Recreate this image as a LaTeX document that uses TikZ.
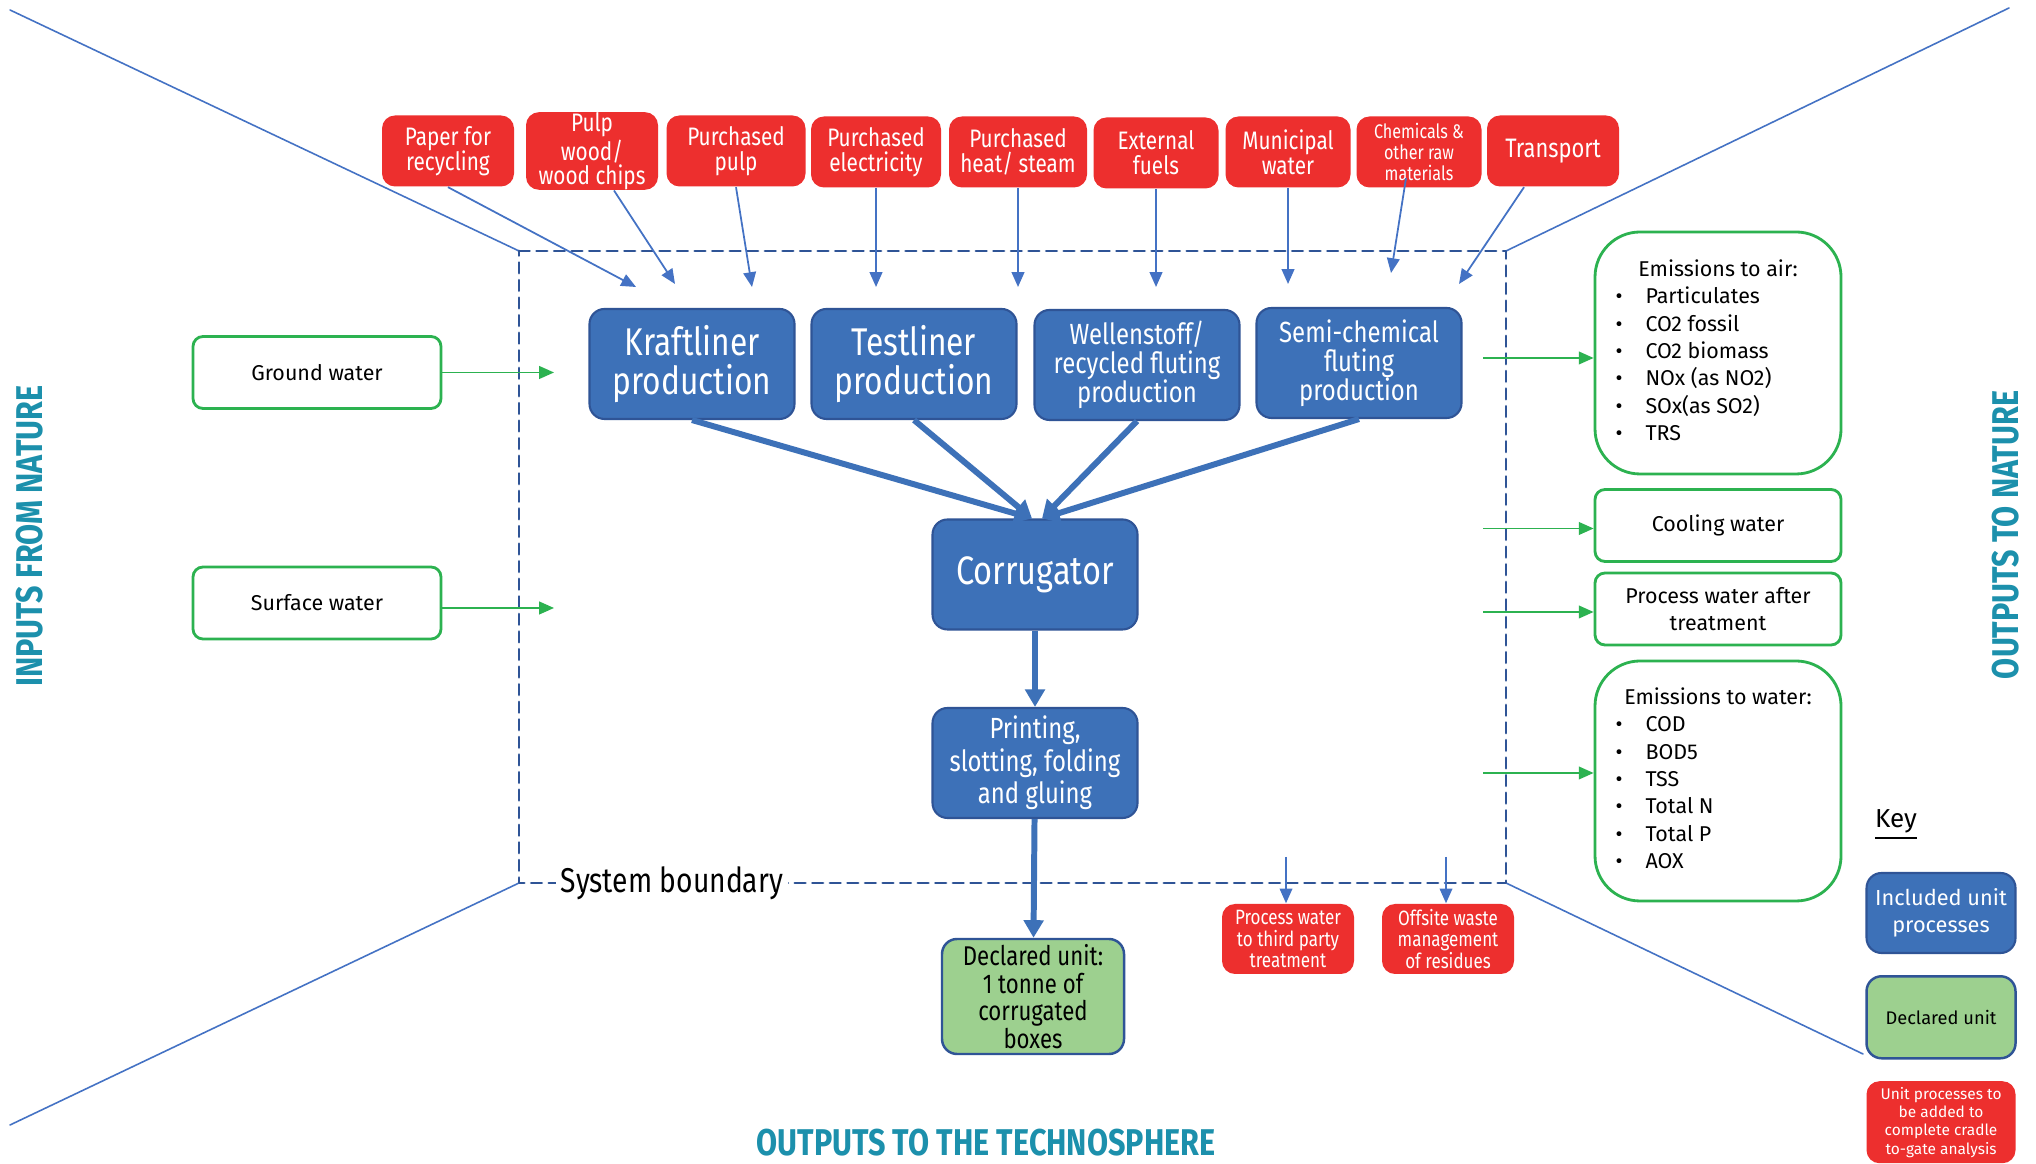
\documentclass[tikz,border=0pt]{standalone}
\usepackage{fontspec}
\setmainfont{Fira Sans}
\newfontfamily\narrowfont[FakeStretch=0.82]{Fira Sans}
\usepackage{tikz}
\usepackage{tkz-euclide}
\usetikzlibrary{calc}
\usetikzlibrary{positioning}
\usetikzlibrary{arrows.meta}

\definecolor{lcared}{RGB}{237,47,46}
\definecolor{lcablue}{RGB}{61,113,184}
\definecolor{lcaedge}{RGB}{47,84,150}
\definecolor{lcagreen}{RGB}{44,178,80}
\definecolor{lcafill}{RGB}{157,208,143}
\definecolor{lcaline}{RGB}{68,114,196}
\definecolor{lcateal}{RGB}{28,144,172}

\newcommand{\fsz}[2]{\fontsize{#1}{#2}\selectfont}

\begin{document}
\begin{tikzpicture}[%
  >={Triangle[length=4.2pt,width=3.6pt]},
  scale=1.0,
  redbox/.style={rectangle, rounded corners=0.13cm, fill=lcared, text=white,
    align=center, minimum height=0.71cm, inner sep=0pt,
    font=\narrowfont\fsz{7.2}{7.2}},
  unitbox/.style={rectangle, rounded corners=0.15cm, fill=lcablue, draw=lcaedge,
    line width=0.6pt, text=white, align=center, minimum width=2.05cm,
    minimum height=1.10cm, inner sep=0pt},
  declbox/.style={rectangle, rounded corners=0.15cm, fill=lcafill, draw=lcaedge,
    line width=0.7pt, align=center, inner sep=0pt},
  naturebox/.style={rectangle, rounded corners=0.1cm, draw=lcagreen,
    line width=0.8pt, minimum width=2.48cm, minimum height=0.72cm,
    inner sep=0pt, font=\fsz{6.1}{7.8}},
  emitbox/.style={naturebox, rounded corners=0.45cm, minimum width=2.46cm},
  inflow/.style={->, draw=lcaline, line width=0.5pt},
  mainflow/.style={-{Triangle[length=5pt,width=5.5pt]}, draw=lcablue, line width=1.7pt},
  greenflow/.style={->, draw=lcagreen, line width=0.5pt},
  heading/.style={text=lcateal, inner sep=0pt, font=\narrowfont\bfseries\fsz{10.6}{12}},
]

  \fill[white] (0,0) rectangle (20.36,11.64);
  \useasboundingbox (0,0) rectangle (20.36,11.64);

  \tkzDefPoint(5.19,9.13){sbA}
  \tkzDefPoint(15.06,9.13){sbB}
  \tkzDefPoint(15.06,2.81){sbC}
  \tkzDefPoint(5.19,2.81){sbD}

  \tkzDefPoint(0.10,11.54){farA}
  \tkzDefPoint(20.09,11.56){farB}
  \tkzDefPoint(18.63,1.10){farC}
  \tkzDefPoint(0.10,0.39){farD}

  \tkzDrawSegments[color=lcaline,line width=0.45pt](farA,sbA farB,sbB farC,sbC farD,sbD)
  \tkzDrawPolygon[color=lcaedge,line width=0.8pt,dash pattern=on 3pt off 2pt](sbA,sbB,sbC,sbD)

  \node[fill=white, inner xsep=1.5pt, inner ysep=1pt, font=\narrowfont\fsz{9.8}{10}]
    (sblabel) at (6.72,2.81) {System boundary};

  \node[redbox, minimum width=1.32cm] (paper) at (4.48,10.13) {Paper for\\recycling};
  \node[redbox, minimum width=1.32cm, font=\narrowfont\fsz{7.2}{6.8}] (pulp) at (5.92,10.13) {Pulp\\wood/\\wood chips};
  \node[redbox, minimum width=1.39cm] (ppulp) at (7.36,10.13) {Purchased\\pulp};
  \node[redbox, minimum width=1.30cm] (elec) at (8.76,10.12) {Purchased\\electricity};
  \node[redbox, minimum width=1.38cm] (heat) at (10.18,10.12) {Purchased\\heat/ steam};
  \node[redbox, minimum width=1.25cm] (fuel) at (11.56,10.11) {External\\fuels};
  \node[redbox, minimum width=1.25cm] (muni) at (12.88,10.12) {Municipal\\water};
  \node[redbox, minimum width=1.25cm, font=\narrowfont\fsz{5.6}{6.1}] (chem) at (14.19,10.12) {Chemicals \&\\other raw\\materials};
  \node[redbox, minimum width=1.32cm, font=\narrowfont\fsz{7.6}{8}] (trans) at (15.53,10.13) {Transport};

  \tkzDefPoint(6.36,8.77){inA}
  \tkzDefPoint(6.75,8.80){inB}
  \tkzDefPoint(7.52,8.77){inC}
  \tkzDefPoint(8.76,8.77){inD}
  \tkzDefPoint(10.18,8.77){inE}
  \tkzDefPoint(11.56,8.77){inF}
  \tkzDefPoint(12.88,8.80){inG}
  \tkzDefPoint(13.91,8.91){inH}
  \tkzDefPoint(14.59,8.80){inI}

  \draw[inflow] (paper.south) -- (inA);
  \draw[inflow] ($(pulp.south)+(0.22,0)$) -- (inB);
  \draw[inflow] (ppulp.south) -- (inC);
  \draw[inflow] (elec.south) -- (inD);
  \draw[inflow] (heat.south) -- (inE);
  \draw[inflow] (fuel.south) -- (inF);
  \draw[inflow] (muni.south) -- (inG);
  \draw[inflow] ($(chem.south)+(-0.13,0.1)$) -- (inH);
  \draw[inflow] ($(trans.south)+(-0.29,0)$) -- (inI);

  \node[unitbox, font=\narrowfont\fsz{11}{11.2}] (kraft) at (6.92,8.00) {Kraftliner\\production};
  \node[unitbox, font=\narrowfont\fsz{11}{11.2}] (test) at (9.14,8.00) {Testliner\\production};
  \node[unitbox, font=\narrowfont\fsz{8.3}{8.3}] (well) at (11.37,7.99) {Wellenstoff/\\recycled fluting\\production};
  \node[unitbox, font=\narrowfont\fsz{8.3}{8.3}] (semi) at (13.59,8.01) {Semi-chemical\\fluting\\production};

  \node[unitbox, font=\narrowfont\fsz{11.3}{12}] (corr) at (10.35,5.895) {Corrugator};
  \node[unitbox, font=\narrowfont\fsz{8.3}{8.2}] (print) at (10.35,4.01) {Printing,\\slotting, folding\\and gluing};
  \node[declbox, minimum width=1.82cm, minimum height=1.15cm, font=\narrowfont\fsz{7.7}{7.8}]
    (decl) at (10.33,1.675) {Declared unit:\\1 tonne of\\corrugated\\boxes};

  \draw[mainflow] (kraft.south) -- ($(corr.north)+(-0.03,0)$);
  \draw[mainflow] (test.south) -- ($(corr.north)+(-0.03,0)$);
  \draw[mainflow] (well.south) -- ($(corr.north)+(0.07,0)$);
  \draw[mainflow] (semi.south) -- ($(corr.north)+(0.07,0)$);
  \draw[mainflow] (corr) -- (print);
  \draw[mainflow] (print) -- (decl);

  \node[naturebox] (ground) at (3.17,7.915) {Ground water};
  \node[naturebox] (surf) at (3.17,5.61) {Surface water};

  \tkzDefPoint(5.54,7.915){gin}
  \tkzDefPoint(5.54,5.56){sin}
  \draw[greenflow] (ground) -- (gin);
  \draw[greenflow] (surf.east |- sin) -- (sin);

  \node[emitbox, minimum height=2.42cm] (air) at (17.18,8.11) {%
    \begin{tabular}{@{}p{0.3cm}@{}p{1.75cm}@{}}
      \multicolumn{2}{@{}c@{}}{Emissions to air:}\\
      \textbullet & Particulates\\
      \textbullet & CO2 fossil\\
      \textbullet & CO2 biomass\\
      \textbullet & NOx (as NO2)\\
      \textbullet & SOx(as SO2)\\
      \textbullet & TRS
    \end{tabular}};
  \node[naturebox, minimum width=2.46cm] (cool) at (17.18,6.385) {Cooling water};
  \node[naturebox, minimum width=2.46cm, align=center] (pwat) at (17.18,5.55) {Process water after\\treatment};
  \node[emitbox, minimum height=2.40cm] (water) at (17.18,3.83) {%
    \begin{tabular}{@{}p{0.3cm}@{}p{1.75cm}@{}}
      \multicolumn{2}{@{}c@{}}{Emissions to water:}\\
      \textbullet & COD\\
      \textbullet & BOD5\\
      \textbullet & TSS\\
      \textbullet & Total N\\
      \textbullet & Total P\\
      \textbullet & AOX
    \end{tabular}};

  \tkzDefPoint(14.83,8.06){outA}
  \tkzDefPoint(14.83,6.355){outB}
  \tkzDefPoint(14.83,5.52){outC}
  \tkzDefPoint(14.83,3.91){outD}
  \draw[greenflow] (outA) -- (air.west |- outA);
  \draw[greenflow] (outB) -- (cool.west |- outB);
  \draw[greenflow] (outC) -- (pwat.west |- outC);
  \draw[greenflow] (outD) -- (water.west |- outD);

  \node[redbox, minimum width=1.32cm, minimum height=0.70cm, font=\narrowfont\fsz{5.9}{6.2}]
    (third) at (12.88,2.25) {Process water\\to third party\\treatment};
  \node[redbox, minimum width=1.32cm, minimum height=0.70cm, font=\narrowfont\fsz{5.9}{6.2}]
    (waste) at (14.48,2.25) {Offsite waste\\management\\of residues};

  \tkzDefPoint(12.86,3.07){thirdin}
  \tkzDefPoint(14.46,3.07){wastein}
  \draw[inflow] (thirdin) -- (thirdin |- third.north);
  \draw[inflow] (wastein) -- (wastein |- waste.north);

  \node[font=\fsz{7.4}{8}] (key) at (18.96,3.39) {\underline{Key}};
  \node[unitbox, minimum width=1.49cm, minimum height=0.80cm, font=\fsz{6.2}{7.8}]
    (keyunit) at (19.41,2.51) {Included unit\\processes};
  \node[declbox, minimum width=1.49cm, minimum height=0.82cm, font=\fsz{5.2}{6},
    below=0.21cm of keyunit] (keydecl) {Declared unit};
  \node[redbox, minimum width=1.49cm, minimum height=0.82cm, font=\fsz{4.4}{5.2},
    below=0.21cm of keydecl] (keyred) {Unit processes to\\be added to\\complete cradle\\to-gate analysis};

  \node[heading, rotate=90] (innat) at (0.30,6.28) {INPUTS FROM NATURE};
  \node[heading, rotate=90] (outnat) at (20.06,6.29) {OUTPUTS TO NATURE};
  \node[heading, anchor=base] (outtech) at (9.86,0.08) {OUTPUTS TO THE TECHNOSPHERE};

\end{tikzpicture}
\end{document}
